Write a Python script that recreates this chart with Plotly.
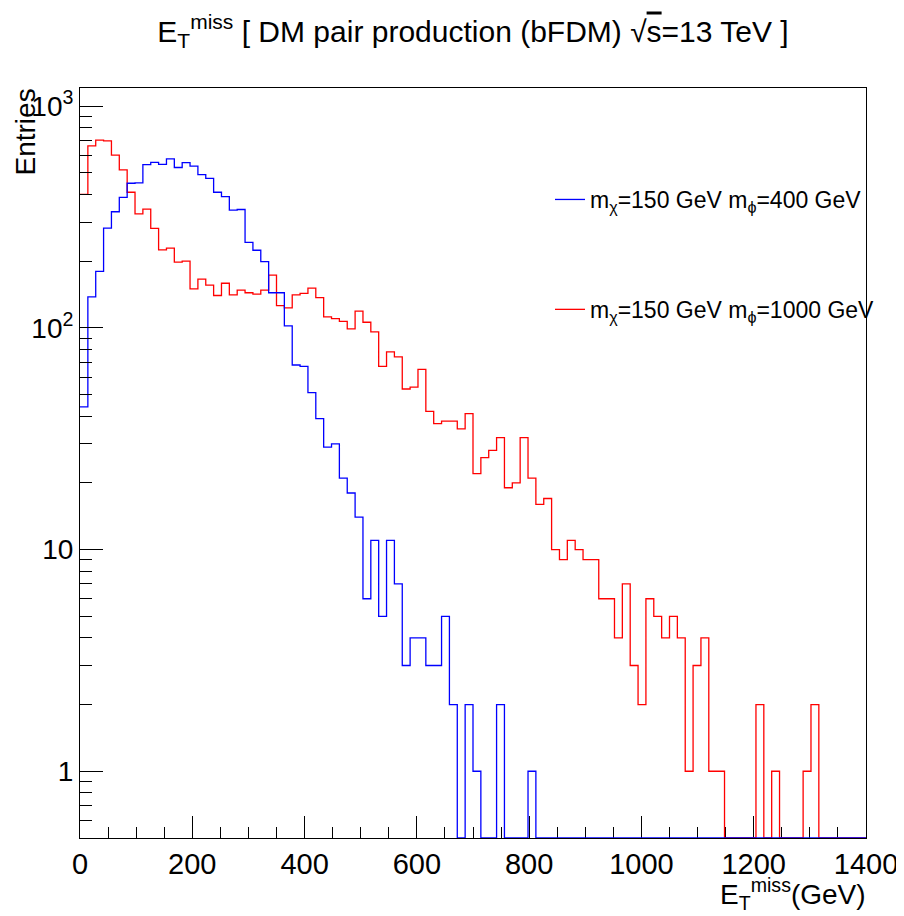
import numpy as np
import plotly.graph_objects as go

# ---------------- data ----------------
x_min_gev = 0
x_max_gev = 1400
n_bins = 100

series_names = [
    "m<sub>χ</sub>=150 GeV m<sub>ϕ</sub>=400 GeV",
    "m<sub>χ</sub>=150 GeV m<sub>ϕ</sub>=1000 GeV",
]

blue_counts = [
    44, 138, 180, 282, 334, 388, 449, 451, 545, 558,
    546, 579, 529, 556, 537, 491, 472, 409, 391, 340,
    342, 243, 224, 199, 144, 144, 102, 68, 67, 51,
    39, 29, 30, 21, 18, 14, 6, 11, 5, 11,
    7, 3, 4, 4, 3, 3, 5, 2, 0, 2,
    1, 0, 0, 2, 0, 0, 0, 1, 0, 0,
    0, 0, 0, 0, 0, 0, 0, 0, 0, 0,
    0, 0, 0, 0, 0, 0, 0, 0, 0, 0,
    0, 0, 0, 0, 0, 0, 0, 0, 0, 0,
    0, 0, 0, 0, 0, 0, 0, 0, 0, 0,
]

red_counts = [
    400, 662, 703, 698, 601, 516, 409, 327, 343, 281,
    225, 229, 198, 200, 150, 166, 156, 140, 159, 141,
    148, 144, 142, 148, 173, 126, 123, 141, 143, 151,
    137, 112, 110, 107, 99, 119, 106, 96, 67, 78,
    74, 53, 54, 65, 42, 37, 38, 38, 35, 41,
    22, 26, 28, 32, 19, 20, 32, 21, 16, 17,
    10, 9, 11, 10, 9, 9, 6, 6, 4, 7,
    3, 2, 6, 5, 4, 5, 4, 1, 3, 4,
    1, 1, 0, 0, 0, 0, 2, 0, 1, 0,
    0, 0, 1, 2, 0, 0, 0, 0, 0, 0,
]

x_tick_vals = [0, 200, 400, 600, 800, 1000, 1200, 1400]
y_tick_vals = [1, 10, 100, 1000]
y_tick_text = ["1", "10", "10<sup>2</sup>", "10<sup>3</sup>"]
y_minor_vals = [0.6, 0.7, 0.8, 0.9,
                2, 3, 4, 5, 6, 7, 8, 9,
                20, 30, 40, 50, 60, 70, 80, 90,
                200, 300, 400, 500, 600, 700, 800, 900]

title_text = ("E<sub>T</sub><sup>miss</sup> [ DM pair production (bFDM) "
              "√<span style='text-decoration:overline'>s</span>=13 TeV ]")
x_title_text = "E<sub>T</sub><sup>miss</sup>(GeV)"
y_title_text = "Entries"

# ---------------- layout geometry ----------------
# the html page adds an 8px body margin, so the figure is drawn 8px smaller
# and every page position is shifted by that offset
PAGE_OFF = 8
W, H = 904 - PAGE_OFF, 916 - PAGE_OFF
PLOT_L, PLOT_R, PLOT_T, PLOT_B = 80 - PAGE_OFF, 866 - PAGE_OFF, 88 - PAGE_OFF, 838 - PAGE_OFF
PW, PH = PLOT_R - PLOT_L, PLOT_B - PLOT_T


def px_x(page_x):
    return (page_x - PAGE_OFF - PLOT_L) / PW


def px_y(page_y):
    return (PLOT_B - (page_y - PAGE_OFF)) / PH


FONT = "Liberation Sans, Arial, Helvetica, sans-serif"
y_log_min = np.log10(0.5)
y_log_max = 3.082
y_floor = 10 ** y_log_min

edges = np.linspace(x_min_gev, x_max_gev, n_bins + 1)


def step_xy(counts):
    c = np.maximum(np.asarray(counts, dtype=float), y_floor)
    x = np.append(edges[:-1], edges[-1])
    y = np.append(c, c[-1])
    return x, y


fig = go.Figure()

rx, ry = step_xy(red_counts)
fig.add_trace(go.Scatter(
    x=rx, y=ry, mode="lines", line=dict(color="#ff0000", width=1.3, shape="hv"),
    name=series_names[1], legendgroup="red", legendrank=2, hoverinfo="skip",
))
bx, by = step_xy(blue_counts)
fig.add_trace(go.Scatter(
    x=bx, y=by, mode="lines", line=dict(color="#0000ff", width=1.3, shape="hv"),
    name=series_names[0], legendgroup="blue", legendrank=1, hoverinfo="skip",
))

fig.update_layout(
    width=W, height=H,
    margin=dict(l=PLOT_L, r=W - PLOT_R, t=PLOT_T, b=H - PLOT_B, pad=0, autoexpand=False),
    paper_bgcolor="white", plot_bgcolor="white",
    font=dict(family=FONT, color="black"),
    title=dict(text=title_text, x=0.5, xref="paper", xanchor="center",
               y=1 - (31 - PAGE_OFF) / H, yref="container", yanchor="middle",
               font=dict(size=30, family=FONT, color="black")),
    showlegend=True,
    legend=dict(x=px_x(550), y=px_y(178), xanchor="left", yanchor="top",
                bgcolor="rgba(0,0,0,0)", borderwidth=0,
                font=dict(size=23, family=FONT, color="black"),
                tracegroupgap=77, traceorder="grouped", itemwidth=30),
)

fig.update_xaxes(
    range=[x_min_gev, x_max_gev], tickmode="array", tickvals=x_tick_vals,
    ticks="inside", ticklen=22, tickwidth=1, tickcolor="black",
    minor=dict(dtick=50, tick0=0, ticks="inside", ticklen=11, tickwidth=1, tickcolor="black"),
    showline=True, linecolor="black", linewidth=1, mirror=True,
    showgrid=False, zeroline=False, layer="below traces", automargin=False,
    tickfont=dict(size=29, family=FONT, color="black"),
)
fig.update_yaxes(
    type="log", range=[y_log_min, y_log_max],
    tickmode="array", tickvals=y_tick_vals, ticktext=y_tick_text,
    ticks="inside", ticklen=23, tickwidth=1, tickcolor="black",
    minor=dict(tickmode="array", tickvals=y_minor_vals, ticks="inside",
               ticklen=12, tickwidth=1, tickcolor="black"),
    showline=True, linecolor="black", linewidth=1, mirror=True,
    showgrid=False, zeroline=False, automargin=False,
    tickfont=dict(size=28, family=FONT, color="black"),
)

fig.add_annotation(text=x_title_text, xref="paper", yref="paper",
                   x=px_x(868), y=px_y(894), xanchor="right", yanchor="middle",
                   showarrow=False, font=dict(size=28, family=FONT, color="black"))
fig.add_annotation(text=y_title_text, xref="paper", yref="paper",
                   x=px_x(25), y=px_y(87), xanchor="center", yanchor="top",
                   textangle=-90, showarrow=False,
                   font=dict(size=28, family=FONT, color="black"))

fig.write_html("out.html")
